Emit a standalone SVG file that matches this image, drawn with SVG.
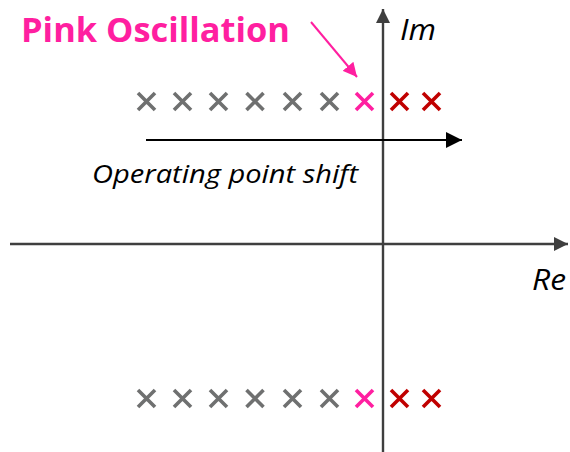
<svg xmlns="http://www.w3.org/2000/svg" width="570" height="452" viewBox="0 0 570 452">
<defs>
<style>
.x{stroke-width:3.6;fill:none}
.g{stroke:#6f7070}
.p{stroke:#ff1fa0}
.r{stroke:#c00000}
.axis{stroke:#3f3f3f;stroke-width:2.4;fill:none}
.lbl{font-family:"Open Sans","Liberation Sans",sans-serif;font-style:italic;fill:#000}
</style>
<marker id="ah" viewBox="0 0 10 10" refX="10" refY="5" markerWidth="6" markerHeight="6" markerUnits="strokeWidth" orient="auto"><path d="M0,0 L10,5 L0,10 z" fill="#3f3f3f"/></marker>
<marker id="ahb" viewBox="0 0 10 10" refX="10" refY="5" markerWidth="8" markerHeight="8" markerUnits="strokeWidth" orient="auto"><path d="M0,0 L10,5 L0,10 z" fill="#000"/></marker>
<marker id="ahp" viewBox="0 0 10 10" refX="10" refY="5" markerWidth="7" markerHeight="7" markerUnits="strokeWidth" orient="auto"><path d="M0,0 L10,5 L0,10 z" fill="#ff1fa0"/></marker>
</defs>
<rect width="570" height="452" fill="#fff"/>
<g id="connectors">
<line class="axis" x1="383" y1="452" x2="383" y2="9" marker-end="url(#ah)"/>
<line class="axis" x1="10" y1="244" x2="568" y2="244" marker-end="url(#ah)"/>
<line x1="146" y1="140" x2="462" y2="140" stroke="#000" stroke-width="2" marker-end="url(#ahb)"/>
<line x1="311" y1="22" x2="357" y2="77" stroke="#ff1fa0" stroke-width="2" marker-end="url(#ahp)"/>
</g>
<g id="poles-upper">
<path class="x g" d="M138,93 l17,17 M138,110 l17,-17"/>
<path class="x g" d="M174,93 l17,17 M174,110 l17,-17"/>
<path class="x g" d="M210,93 l17,17 M210,110 l17,-17"/>
<path class="x g" d="M246.5,93 l17,17 M246.5,110 l17,-17"/>
<path class="x g" d="M284,93 l17,17 M284,110 l17,-17"/>
<path class="x g" d="M321,93 l17,17 M321,110 l17,-17"/>
<path class="x p" d="M356,93 l17,17 M356,110 l17,-17"/>
<path class="x r" d="M391,93 l17,17 M391,110 l17,-17"/>
<path class="x r" d="M423,93 l17,17 M423,110 l17,-17"/>
</g>
<g id="poles-lower">
<path class="x g" d="M138,390 l17,17 M138,407 l17,-17"/>
<path class="x g" d="M174,390 l17,17 M174,407 l17,-17"/>
<path class="x g" d="M210,390 l17,17 M210,407 l17,-17"/>
<path class="x g" d="M246.5,390 l17,17 M246.5,407 l17,-17"/>
<path class="x g" d="M284,390 l17,17 M284,407 l17,-17"/>
<path class="x g" d="M321,390 l17,17 M321,407 l17,-17"/>
<path class="x p" d="M356,390 l17,17 M356,407 l17,-17"/>
<path class="x r" d="M391,390 l17,17 M391,407 l17,-17"/>
<path class="x r" d="M423,390 l17,17 M423,407 l17,-17"/>
</g>
<g id="label-pink">
<text x="21" y="42" font-family="'Open Sans','Liberation Sans',sans-serif" font-weight="bold" font-size="34" fill="#ff1fa0" textLength="269" lengthAdjust="spacingAndGlyphs">Pink Oscillation</text>
</g>
<g id="label-im"><text class="lbl" x="400" y="40" font-size="29" textLength="36" lengthAdjust="spacingAndGlyphs">Im</text></g>
<g id="label-re"><text class="lbl" x="532" y="290" font-size="29" textLength="34" lengthAdjust="spacingAndGlyphs">Re</text></g>
<g id="label-shift"><text class="lbl" x="92" y="183" font-size="25" textLength="266" lengthAdjust="spacingAndGlyphs">Operating point shift</text></g>
</svg>
